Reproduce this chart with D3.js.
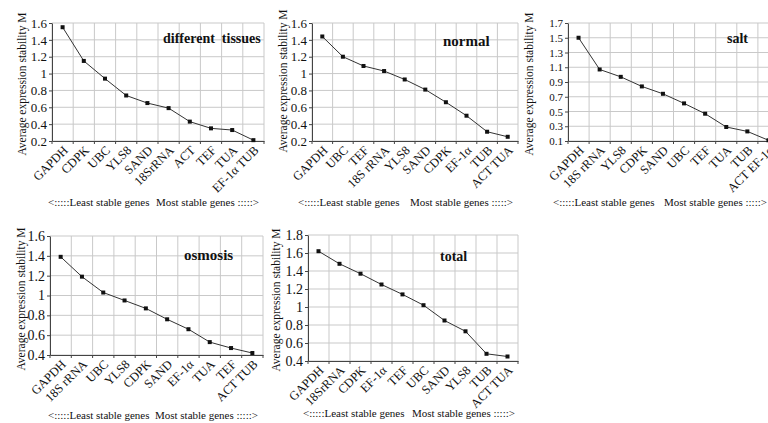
<!DOCTYPE html>
<html>
<head>
<meta charset="utf-8">
<script src="https://cdn.jsdelivr.net/npm/d3@7"></script>
<style>
  html, body { margin: 0; padding: 0; background: #fff; }
  svg { display: block; }
</style>
</head>
<body>
<svg id="chart" width="768" height="423"></svg>
<script>
// ---------------- data ----------------
const tissuesGenes = ["GAPDH", "CDPK", "UBC", "YLS8", "SAND", "18SrRNA", "ACT", "TEF", "TUA", "EF-1α TUB"];
const tissuesM     = [1.55, 1.15, 0.94, 0.74, 0.65, 0.59, 0.43, 0.35, 0.33, 0.21];
const tissuesTicks = [0.2, 0.4, 0.6, 0.8, 1, 1.2, 1.4, 1.6];

const normalGenes = ["GAPDH", "UBC", "TEF", "18S rRNA", "YLS8", "SAND", "CDPK", "EF-1α", "TUB", "ACT TUA"];
const normalM     = [1.44, 1.20, 1.09, 1.03, 0.93, 0.81, 0.66, 0.50, 0.31, 0.25];
const normalTicks = [0.2, 0.4, 0.6, 0.8, 1, 1.2, 1.4, 1.6];

const saltGenes = ["GAPDH", "18S rRNA", "YLS8", "CDPK", "SAND", "UBC", "TEF", "TUA", "TUB", "ACT EF-1α"];
const saltM     = [1.50, 1.07, 0.97, 0.84, 0.74, 0.61, 0.47, 0.29, 0.23, 0.11];
const saltTicks = [0.1, 0.3, 0.5, 0.7, 0.9, 1.1, 1.3, 1.5, 1.7];

const osmosisGenes = ["GAPDH", "18S rRNA", "UBC", "YLS8", "CDPK", "SAND", "EF-1α", "TUA", "TEF", "ACT TUB"];
const osmosisM     = [1.39, 1.19, 1.03, 0.95, 0.87, 0.76, 0.66, 0.53, 0.47, 0.42];
const osmosisTicks = [0.4, 0.6, 0.8, 1, 1.2, 1.4, 1.6];

const totalGenes = ["GAPDH", "18SrRNA", "CDPK", "EF-1α", "TEF", "UBC", "SAND", "YLS8", "TUB", "ACT TUA"];
const totalM     = [1.62, 1.48, 1.37, 1.25, 1.14, 1.02, 0.85, 0.73, 0.48, 0.45];
const totalTicks = [0.4, 0.6, 0.8, 1, 1.2, 1.4, 1.6, 1.8];

const panelTitles = ["different  tissues", "normal", "salt", "osmosis", "total"];
const yAxisTitle = "Average expression stability M";
const footLeft = "<:::::Least stable genes";
const footRight = "Most stable genes :::::>";

// ---------------- layout ----------------
const FONT = "Liberation Serif";
const layouts = [
  {genes: tissuesGenes, values: tissuesM, ticks: tissuesTicks, title: panelTitles[0],
   left: 52, right: 264, top: 23, bottom: 141, ytX: 26, ytY: 84, tX: 163, tY: 43, tSize: 14, tickSize: 13, fY: 206, fL: 48, fR: 259},
  {genes: normalGenes, values: normalM, ticks: normalTicks, title: panelTitles[1],
   left: 312, right: 518, top: 23, bottom: 141, ytX: 287, ytY: 81, tX: 443, tY: 46, tSize: 15, tickSize: 13, fY: 206, fL: 298, fR: 513},
  {genes: saltGenes, values: saltM, ticks: saltTicks, title: panelTitles[2],
   left: 568, right: 779, top: 23, bottom: 141, ytX: 533, ytY: 84, tX: 727, tY: 43, tSize: 14, tickSize: 11, fY: 206, fL: 553, fR: 767},
  {genes: osmosisGenes, values: osmosisM, ticks: osmosisTicks, title: panelTitles[3],
   left: 50, right: 263, top: 236, bottom: 355, ytX: 25, ytY: 299, tX: 184, tY: 260, tSize: 15, tickSize: 14, fY: 419, fL: 48, fR: 258},
  {genes: totalGenes, values: totalM, ticks: totalTicks, title: panelTitles[4],
   left: 308, right: 518, top: 235, bottom: 361, ytX: 280, ytY: 300, tX: 440, tY: 261, tSize: 14, tickSize: 14, fY: 417, fL: 303, fR: 515}
];

const svg = d3.select("#chart").attr("font-family", FONT);

layouts.forEach(p => {
  const g = svg.append("g");
  const x = d3.scaleBand().domain(p.genes).range([p.left, p.right]).padding(0);
  const y = d3.scaleLinear().domain(d3.extent(p.ticks)).range([p.bottom, p.top]);
  const cx = d => x(d) + x.bandwidth() / 2;
  const edges = p.genes.map(d => x(d)).concat([p.right]);

  // horizontal grid
  g.selectAll(".hg").data(p.ticks).join("line")
    .attr("x1", p.left).attr("x2", p.right)
    .attr("y1", d => y(d)).attr("y2", d => y(d))
    .attr("stroke", "#c9c9c9").attr("stroke-width", 1);
  // vertical grid at band edges
  g.selectAll(".vg").data(edges).join("line")
    .attr("x1", d => d).attr("x2", d => d)
    .attr("y1", p.top).attr("y2", p.bottom)
    .attr("stroke", "#c9c9c9").attr("stroke-width", 1);

  // y axis
  const ya = g.append("g").attr("transform", `translate(${p.left},0)`)
    .call(d3.axisLeft(y).tickValues(p.ticks).tickSize(3).tickSizeOuter(0).tickPadding(2).tickFormat(d3.format("")));
  ya.attr("font-family", FONT).attr("font-size", p.tickSize);
  ya.select(".domain").attr("stroke", "#444");
  ya.selectAll(".tick line").attr("stroke", "#444");
  ya.selectAll("text").attr("font-family", FONT).attr("font-size", p.tickSize).attr("fill", "#111");

  // x axis (labels at band centres)
  const xa = g.append("g").attr("transform", `translate(0,${p.bottom})`)
    .call(d3.axisBottom(x).tickSize(0).tickSizeOuter(0));
  xa.attr("font-family", FONT).attr("font-size", 12.5);
  xa.select(".domain").attr("stroke", "#444");
  xa.selectAll("text")
    .attr("font-family", FONT)
    .attr("font-size", 12.5).attr("fill", "#111")
    .attr("text-anchor", "end")
    .attr("dy", null).attr("y", 0)
    .attr("transform", "translate(6,10) rotate(-45)");
  // small tick marks at band edges
  g.selectAll(".xt").data(edges).join("line")
    .attr("x1", d => d).attr("x2", d => d)
    .attr("y1", p.bottom).attr("y2", p.bottom + 3)
    .attr("stroke", "#444").attr("stroke-width", 1);

  // line
  const line = d3.line().x((d, i) => cx(p.genes[i])).y(d => y(d));
  g.append("path").datum(p.values).attr("d", line)
    .attr("fill", "none").attr("stroke", "#333").attr("stroke-width", 1);
  g.selectAll(".pt").data(p.values).join("rect")
    .attr("x", (d, i) => cx(p.genes[i]) - 2).attr("y", d => y(d) - 2)
    .attr("width", 4).attr("height", 4).attr("fill", "#111");

  // panel title
  g.append("text").attr("x", p.tX).attr("y", p.tY)
    .attr("font-family", FONT)
    .attr("font-size", p.tSize).attr("font-weight", "bold").attr("fill", "#111")
    .attr("xml:space", "preserve").style("white-space", "pre")
    .text(p.title);

  // y-axis title
  g.append("text")
    .attr("transform", `translate(${p.ytX},${p.ytY}) rotate(-90)`)
    .attr("text-anchor", "middle")
    .attr("font-family", FONT).attr("font-size", 11.5).attr("fill", "#111")
    .text(yAxisTitle);

  // footer
  g.append("text").attr("x", p.fL).attr("y", p.fY)
    .attr("font-family", FONT).attr("font-size", 11).attr("fill", "#111").text(footLeft);
  g.append("text").attr("x", p.fR).attr("y", p.fY).attr("text-anchor", "end")
    .attr("font-family", FONT).attr("font-size", 11).attr("fill", "#111").text(footRight);
});
</script>
</body>
</html>
